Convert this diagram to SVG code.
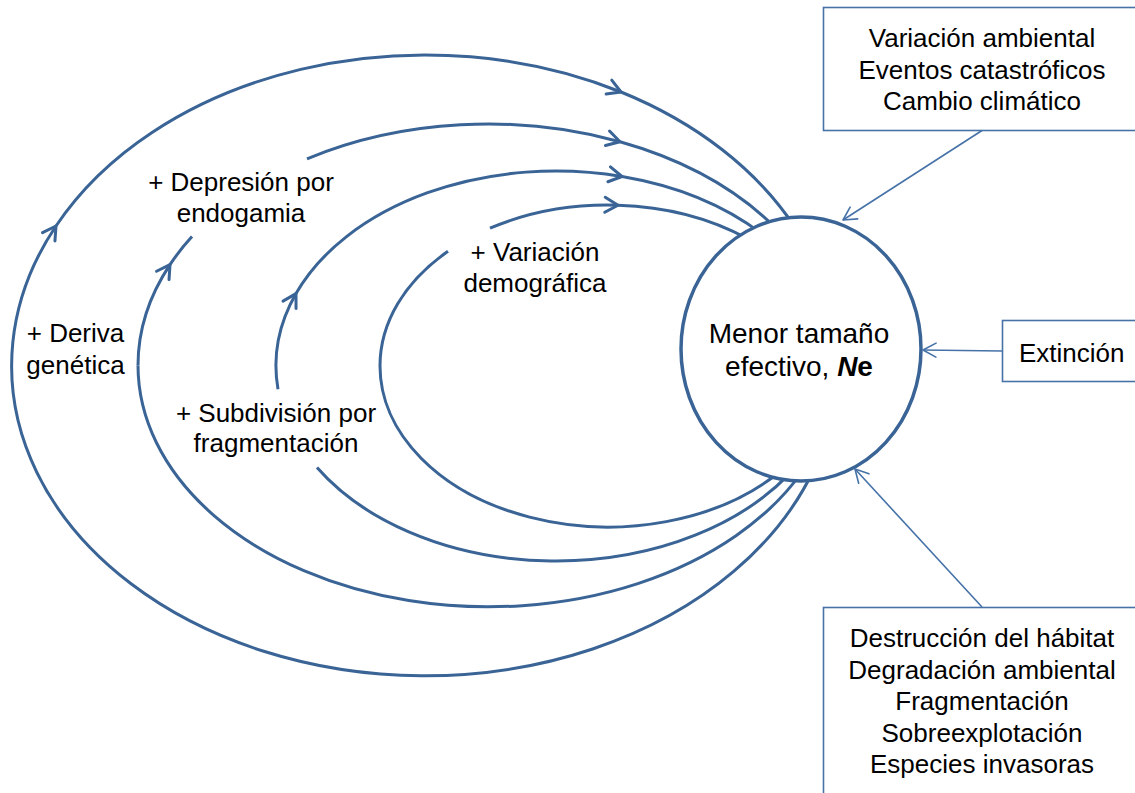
<svg xmlns="http://www.w3.org/2000/svg" width="1135" height="793" viewBox="0 0 1135 793">
<style>
.loop{fill:none;stroke:#3A6496;stroke-width:3}
.thin{fill:none;stroke:#4672A8;stroke-width:1.6}
.box{fill:#FFFFFF;stroke:#4672A8;stroke-width:1.6}
.t{font-family:"Liberation Sans",Arial,sans-serif;font-size:26px;fill:#000000}
.tc{font-family:"Liberation Sans",Arial,sans-serif;font-size:28px;fill:#000000}
</style>
<defs>
<marker id="ah" markerUnits="userSpaceOnUse" markerWidth="24" markerHeight="24" viewBox="-16 -12 20 24" refX="0" refY="0" orient="auto" overflow="visible">
<path d="M-13,-7.5 L0,0 L-13,7.5" fill="none" stroke="#3A6496" stroke-width="3" stroke-linecap="round" stroke-linejoin="round"/>
</marker>
<marker id="ah2" markerUnits="userSpaceOnUse" markerWidth="24" markerHeight="24" viewBox="-16 -12 20 24" refX="0" refY="0" orient="auto" overflow="visible">
<path d="M-13,-7 L0,0 L-13,7" fill="none" stroke="#4672A8" stroke-width="1.6" stroke-linecap="round" stroke-linejoin="round"/>
</marker>
</defs>
<rect width="1135" height="793" fill="#FFFFFF"/>
<g id="connectors">
<g id="loop-deriva">
<path class="loop" marker-end="url(#ah)" d="M815,467 A413,310 0 1 1 56,226"/>
<path class="loop" marker-end="url(#ah)" d="M56,226 A413,310 0 0 1 621,92"/>
<path class="loop" d="M621,92 A413,310 0 0 1 795,227.3"/>
</g>
<g id="loop-endogamia">
<path class="loop" d="M802,472 A350,241.5 0 0 1 138,365.5"/>
<path class="loop" marker-end="url(#ah)" d="M138,365.5 A350,241.5 0 0 1 170,264.6"/>
<path class="loop" d="M170,264.6 A350,241.5 0 0 1 192,236.6"/>
<path class="loop" marker-end="url(#ah)" d="M307,158.8 A350,241.5 0 0 1 620,141.8"/>
<path class="loop" d="M620,141.8 A350,241.5 0 0 1 775,227.3"/>
</g>
<g id="loop-subdivision">
<path class="loop" d="M790,473.1 A280,195 0 0 1 317,467.6"/>
<path class="loop" marker-end="url(#ah)" d="M278,389.3 A280,195 0 0 1 296,293.6"/>
<path class="loop" marker-end="url(#ah)" d="M296,293.6 A280,195 0 0 1 622,176.5"/>
<path class="loop" d="M622,176.5 A280,195 0 0 1 762,233.9"/>
</g>
<g id="loop-demografica">
<path class="loop" d="M782,470 A228,161 0 0 1 380,366 A228,161 0 0 1 448,251.3"/>
<path class="loop" marker-end="url(#ah)" d="M490,228.2 A228,161 0 0 1 618,205.2"/>
<path class="loop" d="M618,205.2 A228,161 0 0 1 748,238.9"/>
</g>
</g>
<g id="node-ne">
<ellipse cx="801" cy="349" rx="120" ry="132" fill="#FFFFFF" stroke="#3A6496" stroke-width="3.5"/>
<text class="tc" x="799" y="343" text-anchor="middle">Menor tamaño</text>
<text class="tc" x="799" y="376" text-anchor="middle">efectivo, <tspan font-weight="bold" font-style="italic">N</tspan><tspan font-weight="bold">e</tspan></text>
</g>
<g id="node-ambiental">
<rect class="box" x="823.5" y="7.5" width="330" height="123"/>
<text class="t" x="982" y="47" text-anchor="middle">Variación ambiental</text>
<text class="t" x="982" y="78.5" text-anchor="middle">Eventos catastróficos</text>
<text class="t" x="982" y="110" text-anchor="middle">Cambio climático</text>
</g>
<g id="node-extincion">
<rect class="box" x="1002.5" y="320.5" width="150" height="61"/>
<text class="t" x="1019" y="362">Extinción</text>
</g>
<g id="node-habitat">
<rect class="box" x="823.5" y="607.5" width="330" height="200"/>
<text class="t" x="982" y="647" text-anchor="middle">Destrucción del hábitat</text>
<text class="t" x="982" y="678.5" text-anchor="middle">Degradación ambiental</text>
<text class="t" x="982" y="710" text-anchor="middle">Fragmentación</text>
<text class="t" x="982" y="741.5" text-anchor="middle">Sobreexplotación</text>
<text class="t" x="982" y="773" text-anchor="middle">Especies invasoras</text>
</g>
<g id="box-connectors">
<path class="thin" marker-end="url(#ah2)" d="M982,130.5 L843,220"/>
<path class="thin" marker-end="url(#ah2)" d="M1002,351 L923,350"/>
<path class="thin" marker-end="url(#ah2)" d="M982,607 L855,469"/>
</g>
<g id="label-deriva">
<text class="t" x="75.5" y="342" text-anchor="middle">+ Deriva</text>
<text class="t" x="75.5" y="373.5" text-anchor="middle">genética</text>
</g>
<g id="label-endogamia">
<text class="t" x="241" y="191" text-anchor="middle">+ Depresión por</text>
<text class="t" x="241" y="222" text-anchor="middle">endogamia</text>
</g>
<g id="label-subdivision">
<text class="t" x="276" y="421.5" text-anchor="middle">+ Subdivisión por</text>
<text class="t" x="276" y="452" text-anchor="middle">fragmentación</text>
</g>
<g id="label-demografica">
<text class="t" x="535" y="261" text-anchor="middle">+ Variación</text>
<text class="t" x="535" y="292" text-anchor="middle">demográfica</text>
</g>
</svg>
